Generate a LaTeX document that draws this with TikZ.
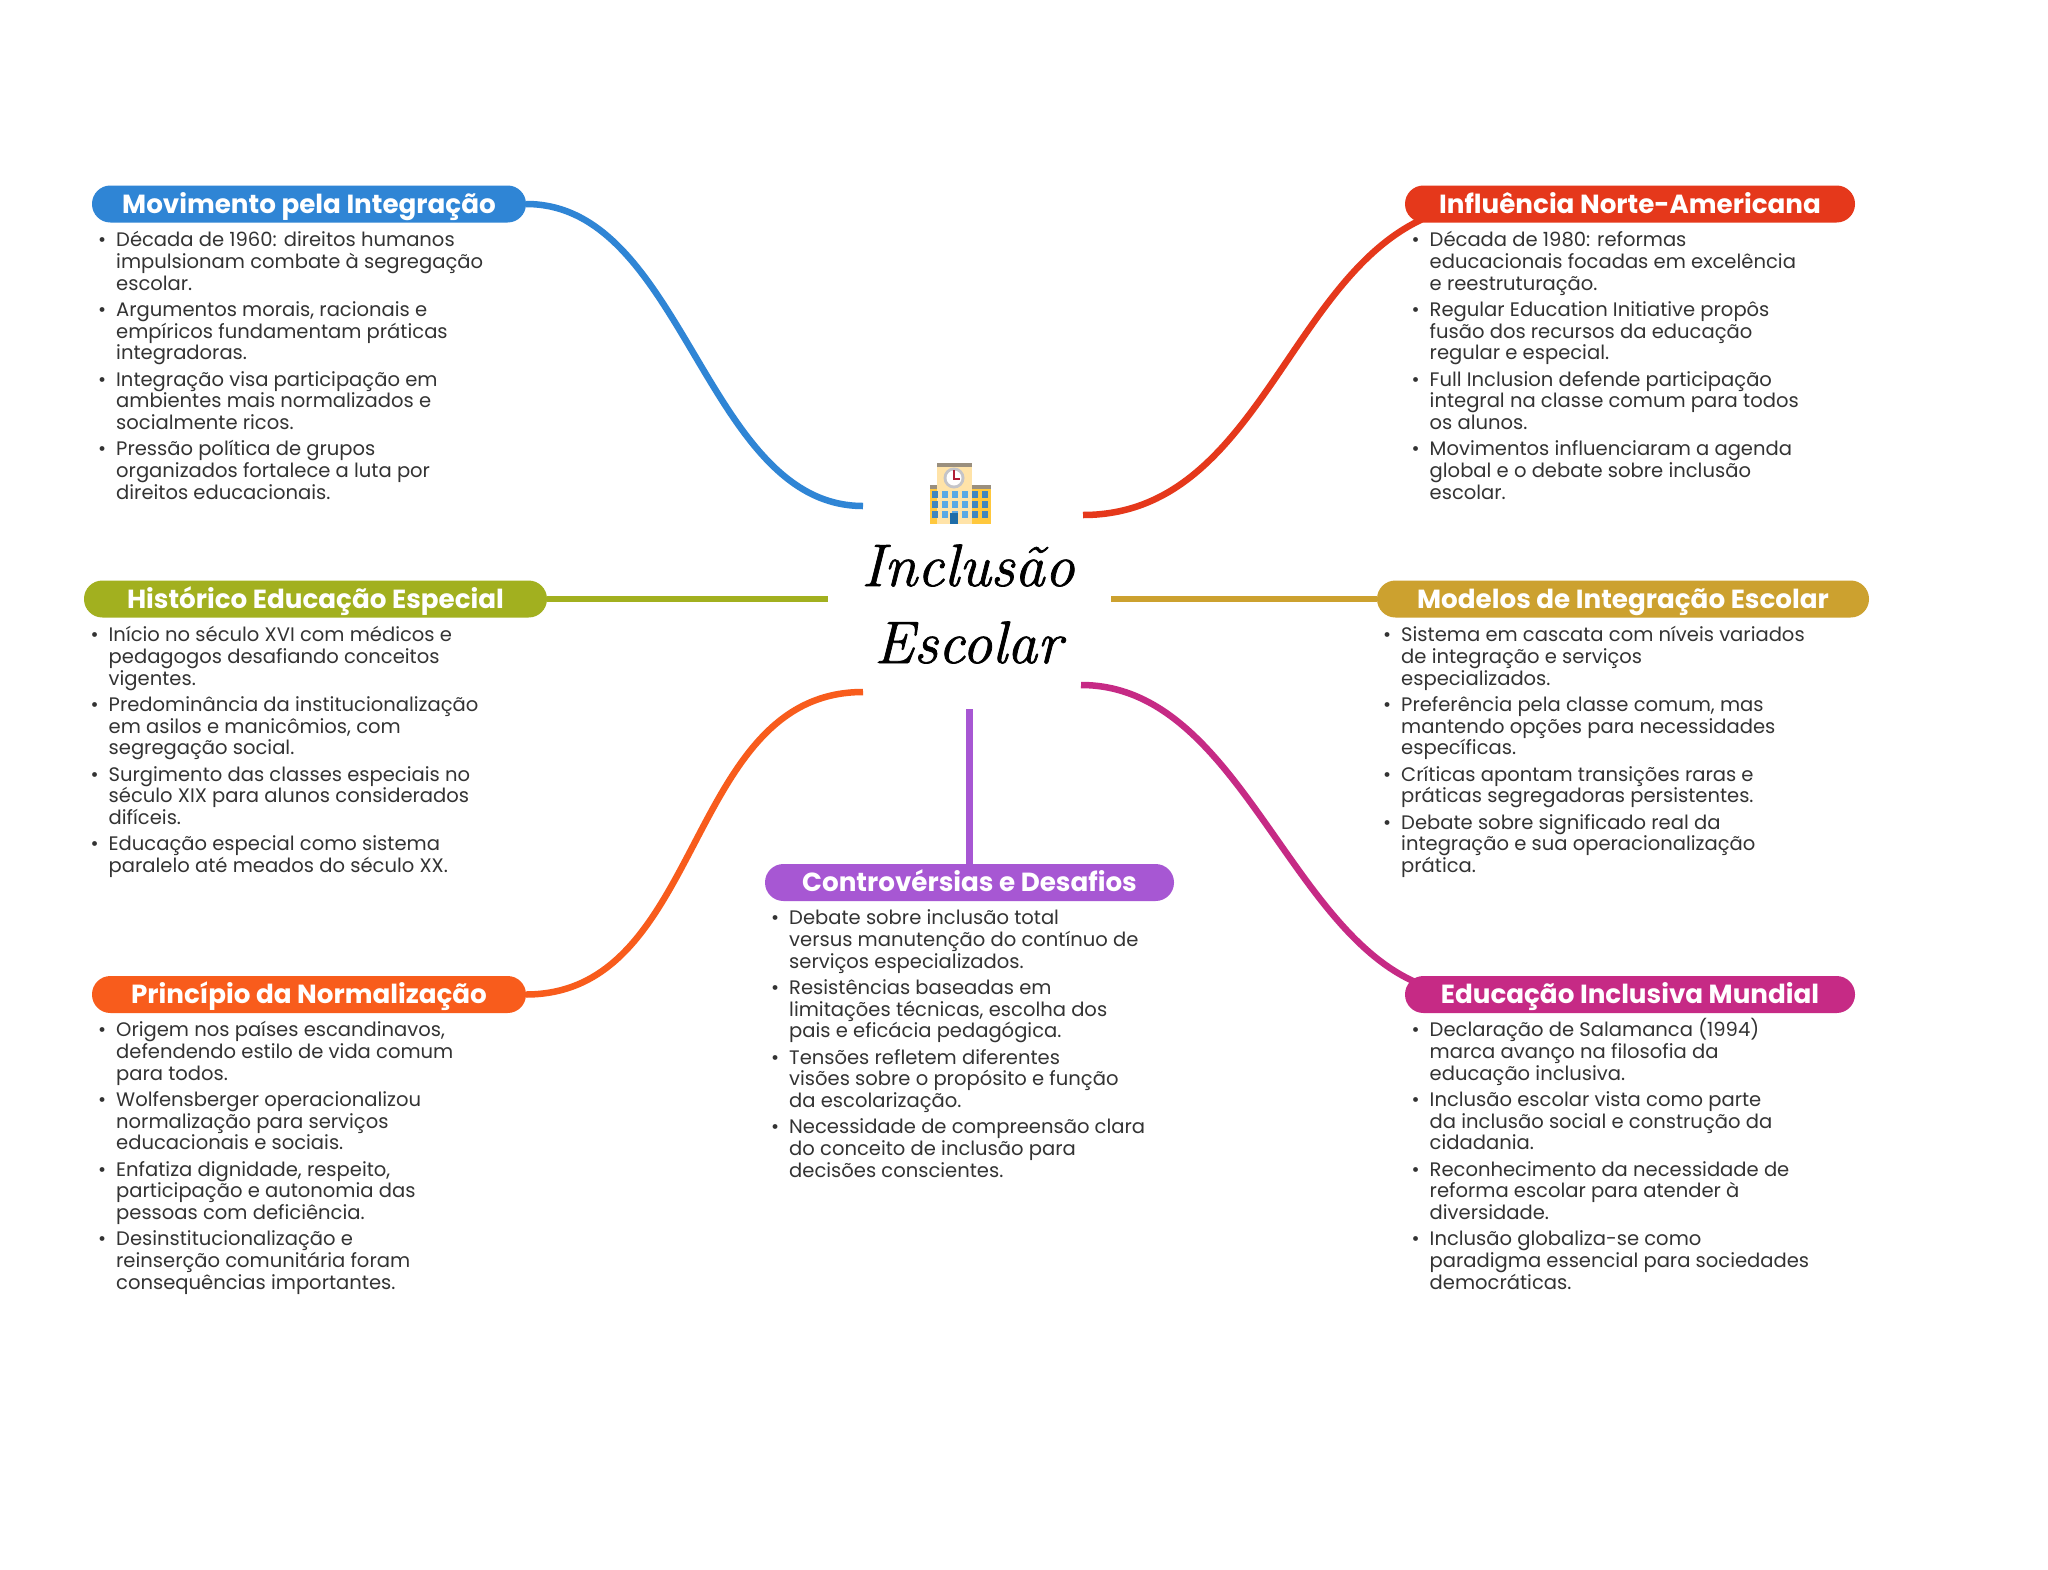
\documentclass[tikz,border=0pt]{standalone}
\usepackage{fontspec}
\setmainfont{Poppins}
\newfontfamily\lmfont[ItalicFeatures={FakeBold=1.2}]{Latin Modern Roman}
\usetikzlibrary{backgrounds}
\definecolor{cblue}{HTML}{2F85D5}
\definecolor{cred}{HTML}{E5381B}
\definecolor{colive}{HTML}{A2B01F}
\definecolor{cgold}{HTML}{CCA12F}
\definecolor{corange}{HTML}{F85C1C}
\definecolor{cpurple}{HTML}{A757D3}
\definecolor{cmag}{HTML}{C62A85}
\definecolor{ctext}{HTML}{333333}
\definecolor{iwall}{HTML}{FFC83D}
\definecolor{itower}{HTML}{FFE3A8}
\definecolor{iroof}{HTML}{9A8F7E}
\definecolor{iwin}{HTML}{5AA9E6}
\definecolor{iwinb}{HTML}{3F86BE}
\definecolor{idoor}{HTML}{1F6DA8}
\definecolor{iclock}{HTML}{C4C4C8}
\definecolor{ihand}{HTML}{B01E35}
\newcommand{\bul}{\makebox[18pt][l]{•}\vphantom{(}}
\newcommand{\ind}{\hspace*{18pt}}
\newcommand{\nx}{\\[4.4pt]}
\tikzset{
  pill/.style={fill=#1,rounded corners=18.4pt,minimum height=37pt,inner sep=0pt,text=white,
    text height=21.5pt,text depth=3pt,
    font=\fontsize{26.2}{30}\selectfont\bfseries},
  notes/.style={anchor=north west,inner sep=0pt,align=left,text=ctext,
    font=\fontsize{19.55}{21.8}\selectfont,
    execute at begin node={\lineskiplimit=-100pt\relax}},
  link/.style={line width=6.5pt,draw=#1},
  titletext/.style={align=center,inner sep=0pt,text=black,
    font=\fontsize{60}{77}\selectfont\lmfont\itshape}
}
\begin{document}
\begin{tikzpicture}[x=1pt,y=-1pt]
\useasboundingbox (0,0) rectangle (2048,1569);

\node[pill=cblue,minimum width=434pt] (p1) at (309,204) {Movimento pela Integração};
\node[pill=cred,minimum width=450pt] (p2) at (1630,204) {Influência Norte-Americana};
\node[pill=colive,minimum width=463pt] (p3) at (315.5,599) {Histórico Educação Especial};
\node[pill=cgold,minimum width=492pt] (p4) at (1623,599) {Modelos de Integração Escolar};
\node[pill=cpurple,minimum width=409pt] (p5) at (969.5,882.5) {Controvérsias e Desafios};
\node[pill=corange,minimum width=434pt] (p6) at (309,994.5) {Princípio da Normalização};
\node[pill=cmag,minimum width=450pt] (p7) at (1630,994.5) {Educação Inclusiva Mundial};

\node[titletext] (title) at (968,604) {Inclusão\\Escolar};

\coordinate (c1) at (863,506);
\coordinate (c2) at (1083,515);
\coordinate (c3) at (828,599);
\coordinate (c4) at (1111,599);
\coordinate (c5) at (969.5,709);
\coordinate (c6) at (863,692);
\coordinate (c7) at (1081,685);
\coordinate (e2) at (1493,204);
\coordinate (e7) at (1472,994);

\begin{scope}[on background layer]
\fill[white] (0,0) rectangle (2048,1569);
\draw[link=cblue] (p1.east) .. controls (684,204) and (705,506) .. (c1);
\draw[link=cred] (c2) .. controls (1282,515) and (1294,204) .. (e2);
\draw[link=colive] (p3.east) -- (c3);
\draw[link=cgold] (c4) -- (p4.west);
\draw[link=cpurple] (c5) -- (p5.north);
\draw[link=corange] (p6.east) .. controls (705,994) and (684,692) .. (c6);
\draw[link=cmag] (c7) .. controls (1256,685) and (1298,994) .. (e7);
\end{scope}

\node[notes] (n1) at (98,228) {\bul Década de 1960: direitos humanos\\\ind impulsionam combate à segregação\\\ind escolar.\nx
\bul Argumentos morais, racionais e\\\ind empíricos fundamentam práticas\\\ind integradoras.\nx
\bul Integração visa participação em\\\ind ambientes mais normalizados e\\\ind socialmente ricos.\nx
\bul Pressão política de grupos\\\ind organizados fortalece a luta por\\\ind direitos educacionais.};

\node[notes] (n2) at (1411.5,228) {\bul Década de 1980: reformas\\\ind educacionais focadas em excelência\\\ind e reestruturação.\nx
\bul Regular Education Initiative propôs\\\ind fusão dos recursos da educação\\\ind regular e especial.\nx
\bul Full Inclusion defende participação\\\ind integral na classe comum para todos\\\ind os alunos.\nx
\bul Movimentos influenciaram a agenda\\\ind global e o debate sobre inclusão\\\ind escolar.};

\node[notes] (n3) at (90.5,623) {\bul Início no século XVI com médicos e\\\ind pedagogos desafiando conceitos\\\ind vigentes.\nx
\bul Predominância da institucionalização\\\ind em asilos e manicômios, com\\\ind segregação social.\nx
\bul Surgimento das classes especiais no\\\ind século XIX para alunos considerados\\\ind difíceis.\nx
\bul Educação especial como sistema\\\ind paralelo até meados do século XX.};

\node[notes] (n4) at (1383,623) {\bul Sistema em cascata com níveis variados\\\ind de integração e serviços\\\ind especializados.\nx
\bul Preferência pela classe comum, mas\\\ind mantendo opções para necessidades\\\ind específicas.\nx
\bul Críticas apontam transições raras e\\\ind práticas segregadoras persistentes.\nx
\bul Debate sobre significado real da\\\ind integração e sua operacionalização\\\ind prática.};

\node[notes] (n5) at (771,906) {\bul Debate sobre inclusão total\\\ind versus manutenção do contínuo de\\\ind serviços especializados.\nx
\bul Resistências baseadas em\\\ind limitações técnicas, escolha dos\\\ind pais e eficácia pedagógica.\nx
\bul Tensões refletem diferentes\\\ind visões sobre o propósito e função\\\ind da escolarização.\nx
\bul Necessidade de compreensão clara\\\ind do conceito de inclusão para\\\ind decisões conscientes.};

\node[notes] (n6) at (98,1018) {\bul Origem nos países escandinavos,\\\ind defendendo estilo de vida comum\\\ind para todos.\nx
\bul Wolfensberger operacionalizou\\\ind normalização para serviços\\\ind educacionais e sociais.\nx
\bul Enfatiza dignidade, respeito,\\\ind participação e autonomia das\\\ind pessoas com deficiência.\nx
\bul Desinstitucionalização e\\\ind reinserção comunitária foram\\\ind consequências importantes.};

\node[notes] (n7) at (1411.5,1018) {\bul Declaração de Salamanca (1994)\\\ind marca avanço na filosofia da\\\ind educação inclusiva.\nx
\bul Inclusão escolar vista como parte\\\ind da inclusão social e construção da\\\ind cidadania.\nx
\bul Reconhecimento da necessidade de\\\ind reforma escolar para atender à\\\ind diversidade.\nx
\bul Inclusão globaliza-se como\\\ind paradigma essencial para sociedades\\\ind democráticas.};

% school icon
\fill[iwall] (930,486) rectangle (991,524);
\fill[iroof] (930,485) rectangle (991,489);
\fill[itower] (937,465) rectangle (972,524);
\fill[iroof] (937,463) rectangle (972,467);
\fill[iclock] (954,478) circle (10.5);
\fill[white] (954,478) circle (7.5);
\fill[ihand] (952.5,470) rectangle (955,479.5);
\fill[ihand] (952.5,477.5) rectangle (960,480);
\foreach \r in {494,504,514}{
  \foreach \c/\w in {935/iwinb,945/iwin,955/iwin,965/iwin,975/iwinb,985/iwinb}{
    \fill[\w] (\c-3,\r-3.5) rectangle (\c+3,\r+3.5);
  }
}
\fill[idoor] (950,513) rectangle (958,524);
\end{tikzpicture}
\end{document}
